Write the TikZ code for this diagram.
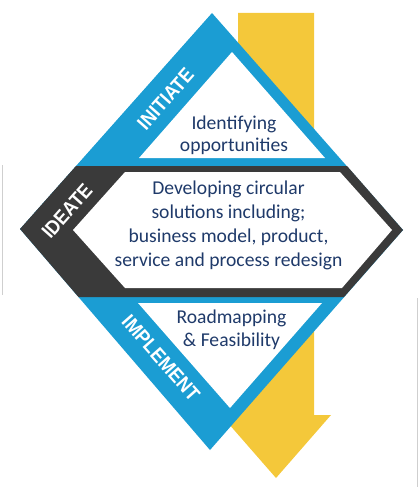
\documentclass[tikz,border=0pt]{standalone}
\usepackage{fontspec}
\usepackage{graphicx}
\setmainfont{Carlito}
\newfontfamily\labfont{Liberation Sans}
\definecolor{cblue}{HTML}{1B9DD3}
\definecolor{cyellow}{HTML}{F4C83A}
\definecolor{cdark}{HTML}{3A3A3A}
\definecolor{cnavy}{HTML}{1F3A6A}
\definecolor{cframe}{HTML}{CFCFCF}
\newcommand{\narrowlab}[1]{\scalebox{0.9}[1]{#1}}
\tikzset{
  bodytext/.style={text=cnavy, align=center, inner sep=0pt, font=\fontsize{19.6}{22.5}\selectfont},
  midtext/.style={text=cnavy, align=center, inner sep=0pt, font=\fontsize{19.6}{24}\selectfont},
  lab/.style={text=white, inner sep=0pt, font=\labfont\bfseries\fontsize{20}{20}\selectfont},
  framel/.style={draw=cframe, line width=0.6pt}
}
\begin{document}
\begin{tikzpicture}[x=1pt,y=-1pt]
\useasboundingbox (0,0) rectangle (419,487);
% faint frame lines
\draw[framel] (2.5,165) -- (2.5,295);
\draw[framel] (417.5,298) -- (417.5,487);
% yellow arrow
\fill[cyellow] (238,13) -- (314,13) -- (314,415) -- (331,415) -- (276,478) -- (221,415) -- (238,415) -- cycle;
% blue diamond
\coordinate (dt) at (212,13);
\coordinate (dl) at (20,229);
\coordinate (db) at (210,450);
\coordinate (dr) at (403,230);
\fill[cblue] (dt) -- (dr) -- (db) -- (dl) -- cycle;
% dark hexagon
\fill[cdark] (dl) -- (76,166) -- (347,166) -- (dr) -- (344,297) -- (78.5,297) -- cycle;
% white inner hexagon
\fill[white] (73,230) -- (125,172) -- (340,172) -- (392,230) -- (342,288) -- (125,288) -- cycle;
% white triangles
\fill[white] (232,52) -- (325,158) -- (139,158) -- cycle;
\fill[white] (138,303) -- (322,303) -- (230,408) -- cycle;
% labels
\node[lab, rotate=48.4] (initiate) at (165.5,99) {\narrowlab{INITIATE}};
\node[lab, rotate=48.4] (ideate) at (67,211) {\narrowlab{IDEATE}};
\node[lab, rotate=-48.5] (implement) at (161,358) {\narrowlab{IMPLEMENT}};
% texts
\node[bodytext] (t1) at (234,135.5) {Identifying\\opportunities};
\node[midtext] (t2) at (228.5,225) {Developing circular\\solutions including;\\business model, product,\\service and process redesign};
\node[bodytext] (t3) at (231.5,330) {Roadmapping\\\& Feasibility};
\end{tikzpicture}
\end{document}
